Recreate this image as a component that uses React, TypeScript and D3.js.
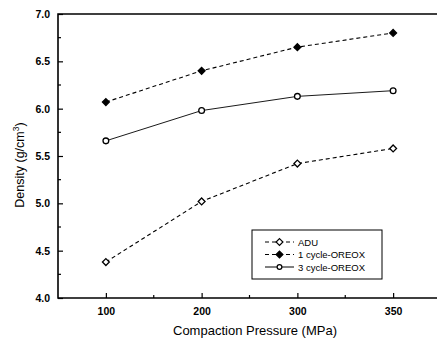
import * as d3 from 'd3'
import { useEffect, useRef } from 'react';

const pressures = ['100', '200', '300', '350'];
const adu = [4.38, 5.02, 5.42, 5.58];
const oreox1 = [6.07, 6.40, 6.65, 6.80];
const oreox3 = [5.66, 5.98, 6.13, 6.19];
const yTicks = [4.0, 4.5, 5.0, 5.5, 6.0, 6.5, 7.0];
const seriesNames = ['ADU', '1 cycle-OREOX', '3 cycle-OREOX'];

function drawChart(svgEl: SVGSVGElement) {
    const svg = d3.select(svgEl);
    svg.selectAll('*').remove();

    const left = 58, right = 441, top = 14, bottom = 298;
    const x = d3.scalePoint<string>().domain(pressures).range([left, right]).padding(0.5);
    const y = d3.scaleLinear().domain([4, 7]).range([bottom, top]);
    const font = 'Arial, "Liberation Sans", sans-serif';

    // frame (right side falls outside the picture)
    svg.append('path')
        .attr('d', `M${right},${top}H${left}V${bottom}H${right}`)
        .attr('fill', 'none').attr('stroke', '#000').attr('stroke-width', 1.6);

    // y axis: inward ticks
    const gy = svg.append('g').attr('transform', `translate(${left},0)`)
        .call(d3.axisLeft(y).tickValues(yTicks).tickSize(-5).tickPadding(8).tickFormat(d3.format('.1f')));
    gy.select('.domain').remove();
    gy.selectAll('.tick line').attr('stroke-width', 1.2);
    gy.selectAll('text').attr('font-size', 10.5).attr('font-weight', 'bold').attr('font-family', font);
    svg.append('g').selectAll('line')
        .data(d3.range(4.25, 7, 0.5))
        .join('line')
        .attr('x1', left).attr('x2', left + 3)
        .attr('y1', d => y(d)).attr('y2', d => y(d))
        .attr('stroke', '#000').attr('stroke-width', 1.2);

    // x axis: inward ticks
    const gx = svg.append('g').attr('transform', `translate(0,${bottom})`)
        .call(d3.axisBottom(x).tickSize(-5).tickPadding(10));
    gx.select('.domain').remove();
    gx.selectAll('.tick line').attr('stroke-width', 1.2);
    gx.selectAll('text').attr('font-size', 10.5).attr('font-weight', 'bold').attr('font-family', font);
    const step = x.step();
    svg.append('g').selectAll('line')
        .data(pressures.slice(0, 3))
        .join('line')
        .attr('x1', d => x(d)! + step / 2).attr('x2', d => x(d)! + step / 2)
        .attr('y1', bottom).attr('y2', bottom - 3)
        .attr('stroke', '#000').attr('stroke-width', 1.2);

    // axis titles
    svg.append('text').text('Compaction Pressure (MPa)')
        .attr('x', 255).attr('y', 335).attr('text-anchor', 'middle')
        .attr('font-size', 13).attr('font-family', font);
    const yl = svg.append('text')
        .attr('transform', `translate(24,165) rotate(-90)`)
        .attr('text-anchor', 'middle').attr('font-size', 12.5).attr('font-family', font);
    yl.append('tspan').text('Density (g/cm');
    yl.append('tspan').text('3').attr('font-size', 8.5).attr('dy', -5);
    yl.append('tspan').text(')').attr('dy', 5);

    const series = [
        { name: seriesNames[0], values: adu, dash: '4,3', marker: 'diamond', fill: '#fff', width: 1.1 },
        { name: seriesNames[1], values: oreox1, dash: '4,3', marker: 'diamond', fill: '#000', width: 1.1 },
        { name: seriesNames[2], values: oreox3, dash: null, marker: 'circle', fill: '#fff', width: 0.9 },
    ];
    const diamond = d3.symbol().type(d3.symbolDiamond2).size(30);
    const circle = d3.symbol().type(d3.symbolCircle).size(26);

    const line = d3.line<number>().x((_, i) => x(pressures[i])!).y(d => y(d));
    series.forEach(s => {
        svg.append('path').datum(s.values)
            .attr('d', line)
            .attr('fill', 'none').attr('stroke', '#000').attr('stroke-width', s.width)
            .attr('stroke-dasharray', s.dash);
        svg.append('g').selectAll('path')
            .data(s.values)
            .join('path')
            .attr('transform', (d, i) => `translate(${x(pressures[i])},${y(d)})`)
            .attr('d', s.marker === 'diamond' ? diamond() : circle())
            .attr('fill', s.fill).attr('stroke', '#000').attr('stroke-width', 1.3);
    });

    // legend
    const lg = svg.append('g');
    lg.append('rect').attr('x', 252).attr('y', 230).attr('width', 130).attr('height', 49)
        .attr('fill', '#fff').attr('stroke', '#000').attr('stroke-width', 1);
    series.forEach((s, i) => {
        const ly = 242 + i * 12.5;
        lg.append('line').attr('x1', 265).attr('x2', 294).attr('y1', ly).attr('y2', ly)
            .attr('stroke', '#000').attr('stroke-width', 1).attr('stroke-dasharray', s.dash);
        lg.append('path').attr('transform', `translate(279.5,${ly})`)
            .attr('d', s.marker === 'diamond' ? diamond() : d3.symbol().type(d3.symbolCircle).size(18)())
            .attr('fill', s.fill).attr('stroke', '#000').attr('stroke-width', 1.2);
        lg.append('text').text(s.name).attr('x', 298).attr('y', ly + 3.5)
            .attr('font-size', 9.5).attr('font-family', font);
    });
}

function App() {
    const ref = useRef<SVGSVGElement>(null);
    useEffect(() => {
        if (ref.current) drawChart(ref.current);
    });

    return (
        <svg ref={ref} width="437" height="340"
            style={{ position: 'absolute', left: 0, top: 0, background: '#fff' }}>
        </svg>
    );
}

export default App;
